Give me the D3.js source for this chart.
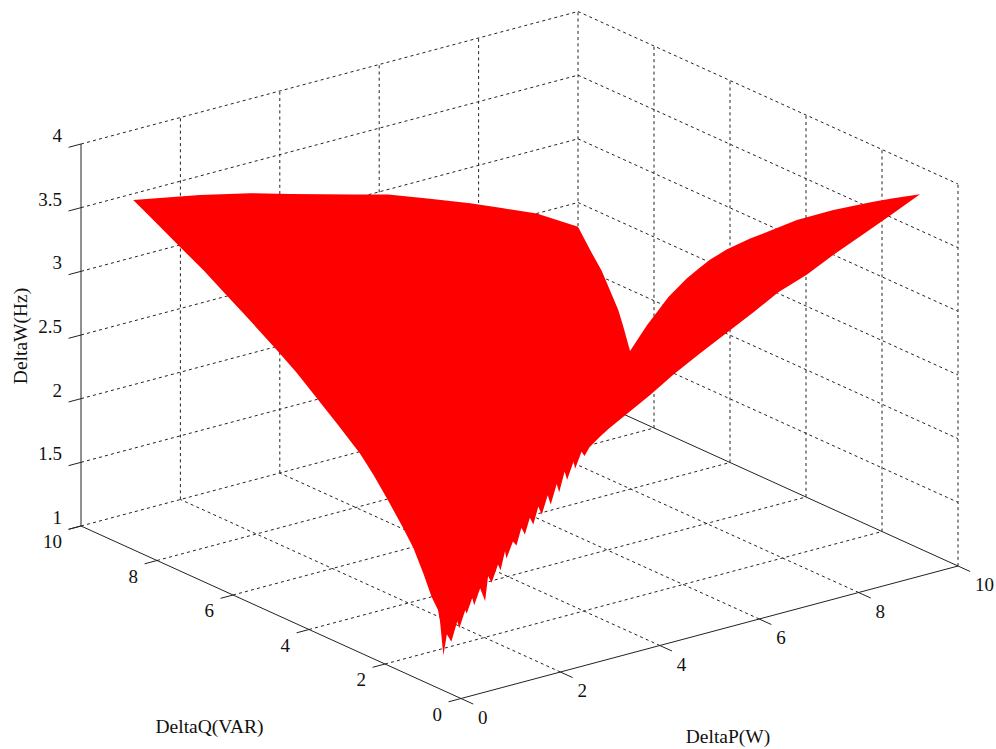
<!DOCTYPE html>
<html><head><meta charset="utf-8">
<script src="https://cdn.jsdelivr.net/npm/d3@7"></script>
<style>html,body{margin:0;padding:0;background:#fff}svg{display:block}
text{font-family:"Liberation Serif","Times New Roman",serif;fill:#111}</style>
</head><body><svg id="c" width="996" height="749"></svg>
<script>
const pTicks = [0,2,4,6,8,10];
const qTicks = [0,2,4,6,8,10];
const wTicks = [1,1.5,2,2.5,3,3.5,4];
const wTickLabels = ["1","1.5","2","2.5","3","3.5","4"];
const xTitle = "DeltaP(W)", yTitle = "DeltaQ(VAR)", zTitle = "DeltaW(Hz)";

// Outline of the surface, in data units: far edge, P=10 edge, front edge (with its saw teeth), left edge
const surfaceP = [1.05,2.39,3.4,4.21,5.51,6.18,7.02,7.83,8.5,9.17,10,
  10,10,10,10,10,10,10,10,10,10,10,10,10,10,10,10,10,10,
  9.4,8.93,8.26,7.72,7.15,6.65,6.14,5.57,5.04,4.57,4.1,3.73,3.56,
  3.35,3.25,3.19,3.06,3.03,2.9,2.85,2.74,2.69,2.57,2.51,2.39,2.32,2.22,2.15,2.05,1.98,1.88,1.81,1.68,1.65,1.56,1.51,1.38,1.31,1.25,1.15,1.03,0.99,0.88,0.85,0.73,0.69,0.57,0.48,0.41,
  0.417,0.421,0.434,0.451,0.472,0.496,0.527,0.554,0.582,0.63,0.671,0.712,0.754,0.819,0.857,0.905,0.95,0.987,1.015];
const surfaceQ = [10,10,10,10,10,10,10,10,10,10,10,
  9.68,9.38,9.24,8.94,8.81,8.63,8.19,7.62,7.14,6.83,6.53,6.09,5.47,4.24,3.28,2.23,1.7,1,
  1,1,1,1,1,1,1,1,1,1,1,1,1,
  1,1,1,1,1,1,1,1,1,1,1,1,1,1,1,1,1,1,1,1,1,1,1,1,1,1,1,1,1,1,1,1,1,1,1,1,
  1.1,1.156,1.34,1.58,1.87,2.21,2.64,3.03,3.42,4.09,4.67,5.25,5.84,6.75,7.29,7.96,8.59,9.12,9.51];
const surfaceW = [3.45,3.35,3.26,3.17,3.03,2.96,2.84,2.72,2.61,2.5,2.31,
  2.17,2.05,1.97,1.8,1.69,1.52,1.78,2.08,2.29,2.41,2.52,2.66,2.83,3.142,3.352,3.559,3.657,3.785,
  3.68,3.6,3.49,3.39,3.31,3.206,3.105,2.995,2.884,2.773,2.673,2.592,2.55,
  2.49,2.43,2.47,2.35,2.41,2.28,2.35,2.2,2.27,2.12,2.2,2.06,2.13,2,2.06,1.94,2,1.87,1.91,1.79,1.85,1.71,1.76,1.63,1.69,1.5,1.61,1.49,1.55,1.44,1.47,1.34,1.4,1.25,1.32,1.16,
  1.42,1.495,1.57,1.72,1.88,2.01,2.16,2.29,2.4,2.54,2.655,2.77,2.87,3.01,3.09,3.19,3.27,3.34,3.39];

const originX = 461, originY = 698.5;
const pX = d3.scaleLinear().domain([0,10]).range([0,497]);
const pY = d3.scaleLinear().domain([0,10]).range([0,-132.5]);
const qX = d3.scaleLinear().domain([0,10]).range([0,-380]);
const qY = d3.scaleLinear().domain([0,10]).range([0,-172.5]);
const wY = d3.scaleLinear().domain([1,4]).range([0,-382]);
const X = (p,q) => originX + pX(p) + qX(q);
const Y = (p,q,w) => originY + pY(p) + qY(q) + wY(w);

const svg = d3.select("#c");
const lineGen = d3.line().x(d=>X(d[0],d[1])).y(d=>Y(d[0],d[1],d[2]));

// dashed grid: floor and both back walls
const grid = [];
pTicks.forEach(p => { if(p>0 && p<10) grid.push([[p,0,1],[p,10,1]]); if(p>0) grid.push([[p,10,1],[p,10,4]]); });
qTicks.forEach(q => { if(q>0 && q<10) grid.push([[0,q,1],[10,q,1]]); if(q<10) grid.push([[10,q,1],[10,q,4]]); });
grid.push([[0,10,1],[10,10,1]]);
wTicks.forEach(w => { if(w>1){ grid.push([[0,10,w],[10,10,w]]); grid.push([[10,10,w],[10,0,w]]); } });
svg.append("g").selectAll("path").data(grid).join("path")
  .attr("d", lineGen).attr("fill","none").attr("stroke","#222")
  .attr("stroke-width",1).attr("stroke-dasharray","3 3.2");

// solid axes
const axes = [
  [[0,10,1],[0,10,4]],
  [[0,0,1],[0,10,1]],
  [[0,0,1],[10,0,1]],
  [[10,0,1],[10,10,1]]
];
svg.append("g").selectAll("path").data(axes).join("path")
  .attr("d", lineGen).attr("fill","none").attr("stroke","#222").attr("stroke-width",1);

// tick marks
const ticks = [];
const tickLen = 0.25;
wTicks.forEach(w => ticks.push([[0,10,w],[-tickLen,10,w]]));
qTicks.forEach(q => ticks.push([[0,q,1],[-tickLen,q,1]]));
pTicks.forEach(p => ticks.push([[p,0,1],[p,-0.32,1]]));
svg.append("g").selectAll("path").data(ticks).join("path")
  .attr("d", lineGen).attr("fill","none").attr("stroke","#222").attr("stroke-width",1);

// surface
const outline = surfaceP.map((p,i)=>[p,surfaceQ[i],surfaceW[i]]);
svg.append("path").attr("d", lineGen(outline)+"Z").attr("fill","#ff0000").attr("stroke","none");

// tick labels
const fs = 19;
svg.append("g").selectAll("text").data(wTicks).join("text")
  .attr("x", X(0,10)-19).attr("y", d=>Y(0,10,d)-8.5).attr("text-anchor","end")
  .attr("dominant-baseline","central").attr("font-size",fs).text((d,i)=>wTickLabels[i]);
svg.append("g").selectAll("text").data(qTicks).join("text")
  .attr("x", d=>X(0,d)-19).attr("y", d=>Y(0,d,1)+15.5).attr("text-anchor","end")
  .attr("dominant-baseline","central").attr("font-size",fs).text(d=>d);
svg.append("g").selectAll("text").data(pTicks).join("text")
  .attr("x", d=>X(d,0)+17).attr("y", d=>Y(d,0,1)+18.5).attr("text-anchor","start")
  .attr("dominant-baseline","central").attr("font-size",fs).text(d=>d);

// axis titles
svg.append("text").attr("x",728).attr("y",736.5).attr("text-anchor","middle")
  .attr("dominant-baseline","central").attr("font-size",19.5).text(xTitle);
svg.append("text").attr("x",209.5).attr("y",726.5).attr("text-anchor","middle")
  .attr("dominant-baseline","central").attr("font-size",19.5).text(yTitle);
svg.append("text").attr("transform","translate(20,336) rotate(-90)").attr("text-anchor","middle")
  .attr("dominant-baseline","central").attr("font-size",19.5).text(zTitle);
</script></body></html>
